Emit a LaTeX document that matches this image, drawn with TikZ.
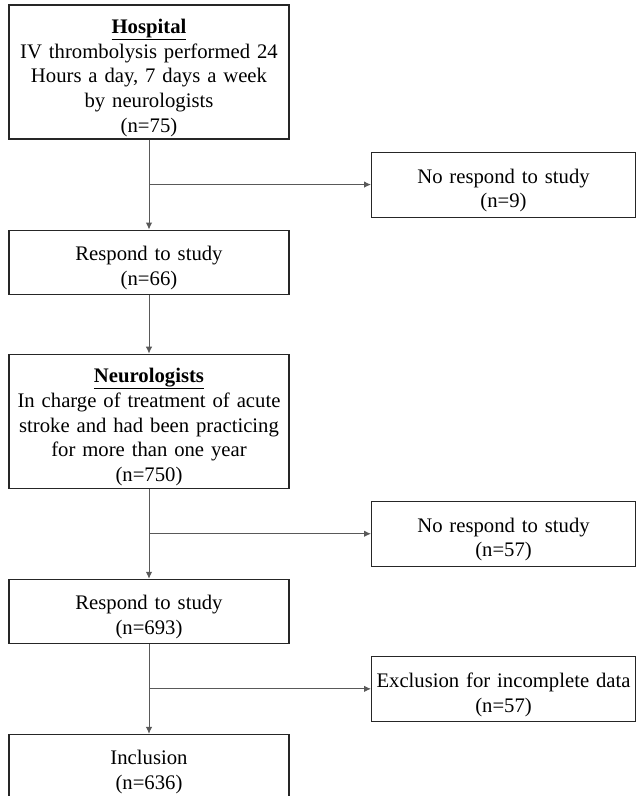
\documentclass[tikz,border=0pt]{standalone}
\usepackage{fontspec}
\setmainfont{Liberation Serif}
\usetikzlibrary{arrows.meta,positioning}

\begin{document}
\begin{tikzpicture}[x=1pt,y=-1pt,>={Latex[length=7pt,width=6.5pt]},auto]

	\tikzstyle{bigbox}=[rectangle,draw=black!85,line width=1.1pt,text width=272pt,inner xsep=4pt,inner ysep=0pt,minimum height=134pt,text height=26pt,align=center,font=\fontsize{20.7}{24.7}\selectfont]
	\tikzstyle{smallbox}=[bigbox,minimum height=64pt]
	\tikzstyle{sidebox}=[smallbox,text width=256pt,minimum height=65pt]
	\tikzstyle{flow}=[draw=black!65,line width=1pt,->]

	\useasboundingbox (0,0) rectangle (637,796);
	\clip (0,0) rectangle (637,796);

	\node [bigbox] (hosp) at (149,72) {\underline{\textbf{Hospital}}\\IV thrombolysis performed 24\\Hours a day, 7 days a week\\by neurologists\\(n=75)};
	\node [smallbox] (resp1) [below=90pt of hosp] {Respond to study\\(n=66)};
	\node [bigbox] (neuro) [below=59pt of resp1] {\underline{\textbf{Neurologists}}\\In charge of treatment of acute\\stroke and had been practicing\\for more than one year\\(n=750)};
	\node [smallbox] (resp2) [below=90pt of neuro] {Respond to study\\(n=693)};
	\node [smallbox] (incl) [below=90pt of resp2] {Inclusion\\(n=636)};

	% branch points
	\path (hosp.south) -- (resp1.north) coordinate[midway] (br1);
	\path (neuro.south) -- (resp2.north) coordinate[midway] (br2);
	\path (resp2.south) -- (incl.north) coordinate[midway] (br3);

	\node [sidebox] (noresp1) [right=222pt of br1] {No respond to study\\(n=9)};
	\node [sidebox] (noresp2) [right=222pt of br2] {No respond to study\\(n=57)};
	\node [sidebox] (excl) [right=222pt of br3] {Exclusion for incomplete data\\(n=57)};

	\draw [flow] (hosp) -- (resp1);
	\draw [flow] (resp1) -- (neuro);
	\draw [flow] (neuro) -- (resp2);
	\draw [flow] (resp2) -- (incl);

	\draw [flow] (br1) -- (noresp1);
	\draw [flow] (br2) -- (noresp2);
	\draw [flow] (br3) -- (excl);

\end{tikzpicture}
\end{document}
